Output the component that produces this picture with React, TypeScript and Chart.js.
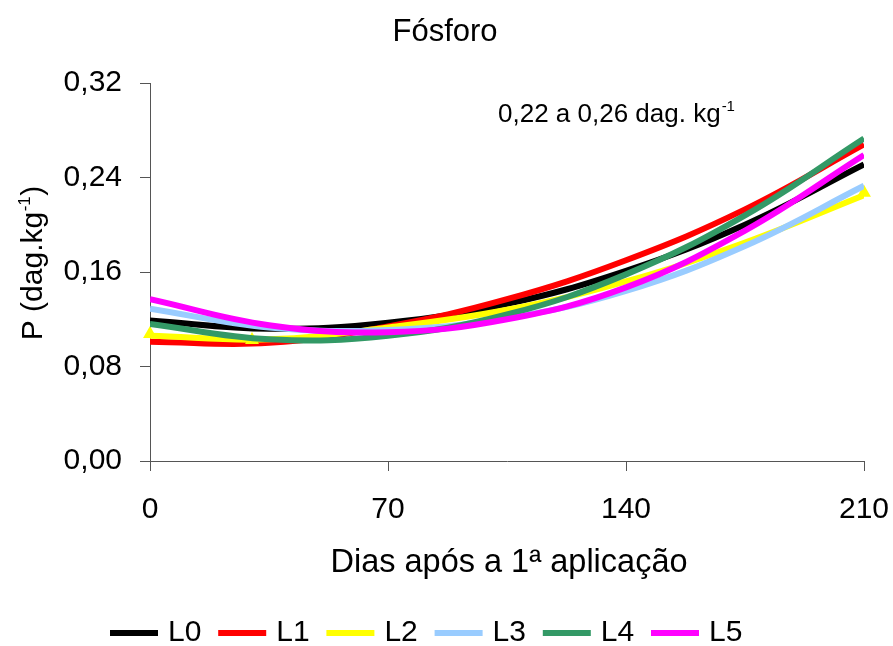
import React, { useEffect, useRef } from 'react';
import { Chart, registerables } from 'chart.js';

Chart.register(...registerables);

// ---- data ----
const TITLE = 'Fósforo';
const X_TITLE = 'Dias após a 1ª aplicação';
const Y_TITLE_MAIN = 'P (dag.kg';
const Y_TITLE_SUP = '-1';
const Y_TITLE_END = ')';
const NOTE_MAIN = '0,22 a 0,26 dag. kg';
const NOTE_SUP = '-1';

const DAYS = [0, 35, 70, 105, 140, 175, 210];
const L0 = [0.119, 0.112, 0.117, 0.133, 0.161, 0.200, 0.251];
const L1 = [0.101, 0.100, 0.114, 0.137, 0.170, 0.213, 0.268];
const L2 = [0.106, 0.103, 0.113, 0.128, 0.152, 0.185, 0.225];
const L3 = [0.129, 0.113, 0.111, 0.121, 0.144, 0.182, 0.233];
const L4 = [0.116, 0.103, 0.106, 0.124, 0.158, 0.208, 0.273];
const L5 = [0.137, 0.115, 0.109, 0.120, 0.147, 0.195, 0.259];

const SERIES_NAMES = ['L0', 'L1', 'L2', 'L3', 'L4', 'L5'];
const SERIES_VALUES = [L0, L1, L2, L3, L4, L5];
const SERIES_COLORS = ['#000000', '#FF0000', '#FFFF00', '#99CCFF', '#339966', '#FF00FF'];

const L2_MARK_DAYS = [0, 30, 210];
const L2_MARK_VALUES = [0.1075, 0.1024, 0.227];

const X_TICKS = [0, 70, 140, 210];
const Y_TICKS = [0, 0.08, 0.16, 0.24, 0.32];

const FONT = '"Liberation Sans", Arial, Helvetica, sans-serif';
const AXIS_COLOR = '#555555';

const textPlugin = {
  id: 'customTexts',
  afterDraw(chart: any) {
    const ctx = chart.ctx as CanvasRenderingContext2D;
    ctx.save();
    ctx.fillStyle = '#000000';

    // title
    ctx.font = `31px ${FONT}`;
    ctx.textAlign = 'center';
    ctx.textBaseline = 'middle';
    ctx.fillText(TITLE, 445, 32);

    // x title
    ctx.font = `32.5px ${FONT}`;
    ctx.fillText(X_TITLE, 509, 563);

    // y title (rotated, with superscript)
    ctx.save();
    ctx.translate(32, 263);
    ctx.rotate(-Math.PI / 2);
    ctx.textAlign = 'left';
    ctx.textBaseline = 'alphabetic';
    ctx.font = `30px ${FONT}`;
    const wMain = ctx.measureText(Y_TITLE_MAIN).width;
    const wEnd = ctx.measureText(Y_TITLE_END).width;
    ctx.font = `17px ${FONT}`;
    const wSup = ctx.measureText(Y_TITLE_SUP).width;
    const total = wMain + wSup + wEnd + 1;
    const x0 = -total / 2;
    const base = 10;
    ctx.font = `30px ${FONT}`;
    ctx.fillText(Y_TITLE_MAIN, x0, base);
    ctx.font = `17px ${FONT}`;
    ctx.fillText(Y_TITLE_SUP, x0 + wMain + 0.5, base - 12);
    ctx.font = `30px ${FONT}`;
    ctx.fillText(Y_TITLE_END, x0 + wMain + wSup + 1, base);
    ctx.restore();

    // annotation
    ctx.textAlign = 'left';
    ctx.textBaseline = 'alphabetic';
    ctx.font = `26px ${FONT}`;
    const nx = 498;
    const nb = 122;
    ctx.fillText(NOTE_MAIN, nx, nb);
    const nw = ctx.measureText(NOTE_MAIN).width;
    ctx.font = `15px ${FONT}`;
    ctx.fillText(NOTE_SUP, nx + nw + 1, nb - 11);

    // legend
    ctx.textBaseline = 'middle';
    ctx.font = `30px ${FONT}`;
    const ly = 633;
    chart.data.datasets.forEach((ds: any) => {
      const idx = SERIES_NAMES.indexOf(ds.label);
      if (idx < 0) return;
      const lx = 110 + idx * 108.2;
      ctx.fillStyle = ds.borderColor;
      ctx.fillRect(lx, ly - 3, 48, 6);
      ctx.fillStyle = '#000000';
      ctx.fillText(ds.label, lx + 58, ly);
    });

    ctx.restore();
  },
};

export default function App() {
  const canvasRef = useRef<HTMLCanvasElement | null>(null);

  useEffect(() => {
    document.body.style.margin = '0';
    const canvas = canvasRef.current;
    if (!canvas) return;

    const datasets: any[] = SERIES_NAMES.map((name, i) => ({
      label: name,
      data: DAYS.map((d, j) => ({ x: d, y: SERIES_VALUES[i][j] })),
      borderColor: SERIES_COLORS[i],
      backgroundColor: SERIES_COLORS[i],
      borderWidth: 6,
      pointRadius: 0,
      pointHoverRadius: 0,
      tension: 0.4,
      fill: false,
      order: 10 - i,
    }));

    datasets.push({
      label: 'L2 pontos',
      data: L2_MARK_DAYS.map((d, j) => ({ x: d, y: L2_MARK_VALUES[j] })),
      showLine: false,
      pointStyle: 'triangle',
      pointRadius: 8,
      pointBorderWidth: 0,
      backgroundColor: SERIES_COLORS[2],
      borderColor: SERIES_COLORS[2],
      clip: false,
      order: 7.5,
    });

    const chart = new Chart(canvas, {
      type: 'line',
      data: { datasets },
      options: {
        animation: false,
        responsive: false,
        devicePixelRatio: 1,
        layout: { padding: { top: 83, right: 29, bottom: 105, left: 0 } },
        plugins: {
          legend: { display: false },
          title: { display: false },
          tooltip: { enabled: false },
        },
        scales: {
          x: {
            type: 'linear',
            min: 0,
            max: 210,
            afterBuildTicks: (s: any) => {
              s.ticks = X_TICKS.map((v) => ({ value: v }));
            },
            afterFit: (s: any) => {
              s.height = 80;
              s.paddingLeft = 0;
              s.paddingRight = 0;
            },
            grid: {
              display: true,
              drawOnChartArea: false,
              drawTicks: true,
              tickLength: 10,
              color: AXIS_COLOR,
              lineWidth: 1,
            },
            border: { display: true, color: AXIS_COLOR, width: 1 },
            ticks: {
              color: '#000000',
              font: { family: FONT, size: 30 },
              padding: 21,
              maxRotation: 0,
              callback: (v: any) => String(v),
            },
          },
          y: {
            type: 'linear',
            min: 0,
            max: 0.32,
            afterBuildTicks: (s: any) => {
              s.ticks = Y_TICKS.map((v) => ({ value: v }));
            },
            afterFit: (s: any) => {
              s.width = 150;
              s.paddingTop = 0;
              s.paddingBottom = 0;
            },
            grid: {
              display: true,
              drawOnChartArea: false,
              drawTicks: true,
              tickLength: 10,
              color: AXIS_COLOR,
              lineWidth: 1,
            },
            border: { display: true, color: AXIS_COLOR, width: 1 },
            ticks: {
              color: '#000000',
              font: { family: FONT, size: 30 },
              padding: 18,
              callback: (v: any) => Number(v).toFixed(2).replace('.', ','),
            },
          },
        },
      },
      plugins: [textPlugin],
    });

    return () => {
      chart.destroy();
    };
  }, []);

  return (
    <div style={{ width: 893, height: 646 }}>
      <canvas ref={canvasRef} width={893} height={646} style={{ display: 'block' }} />
    </div>
  );
}
